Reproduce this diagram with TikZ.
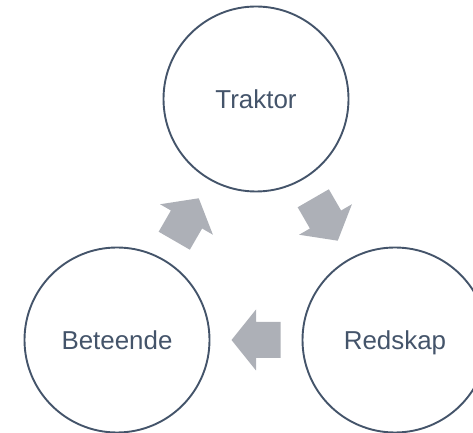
\documentclass[tikz,border=0pt]{standalone}
\usepackage{fontspec}
\setmainfont{Liberation Sans}
\usetikzlibrary{calc}
\definecolor{slate}{HTML}{44546A}
\definecolor{arrgray}{HTML}{ADB0B7}
\tikzset{
  pics/blockarrow/.style={code={
    \fill[arrgray] (-24.5,-18) -- (0,-18) -- (0,-30.5) -- (24.5,0) -- (0,30.5) -- (0,18) -- (-24.5,18) -- cycle;}}}
\begin{document}
\begin{tikzpicture}[x=1bp,y=1bp,
  cyc/.style={circle,draw=slate,line width=1.9bp,minimum size=185bp,inner sep=0pt,
    text=slate,text height=18.7bp,text depth=0pt,font=\fontsize{26}{30}\selectfont}]
\useasboundingbox (0,0) rectangle (473,433);
\clip (0,0) rectangle (473,433);
\node[cyc] (tra) at (256,334) {Traktor};
\node[cyc] (bet) at (117,93) {Beteende};
\node[cyc] (red) at (395,93) {Redskap};
\pic[rotate=60] (a1) at ($(bet)!0.5!(tra)$) {blockarrow};
\pic[rotate=-60] (a2) at ($(tra)!0.5!(red)$) {blockarrow};
\pic[rotate=180] (a3) at ($(red)!0.5!(bet)$) {blockarrow};
\end{tikzpicture}
\end{document}
